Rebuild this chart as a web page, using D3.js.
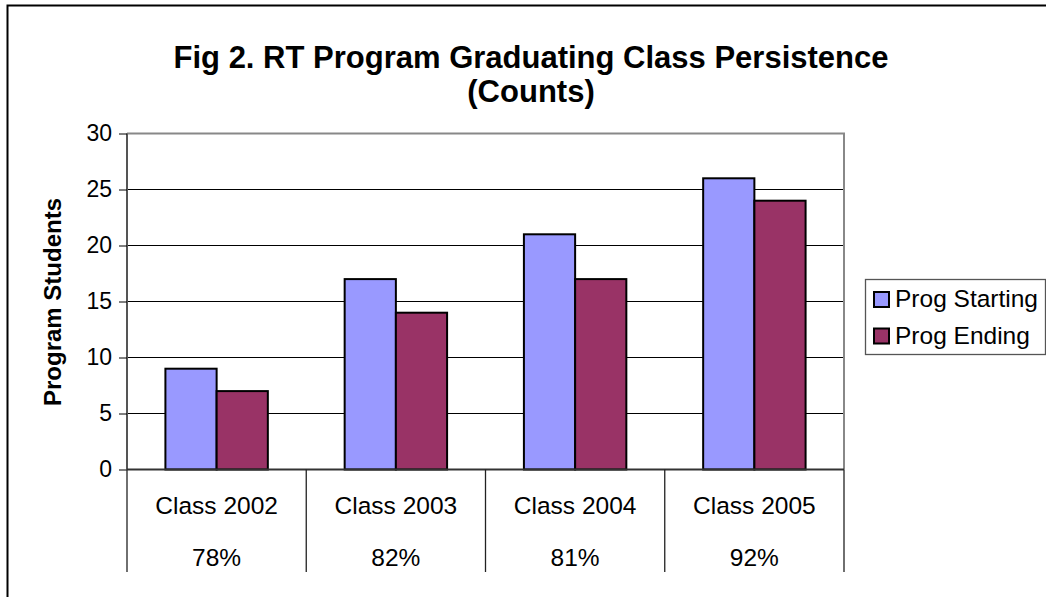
<!DOCTYPE html>
<html><head><meta charset="utf-8">
<script src="https://cdn.jsdelivr.net/npm/d3@7"></script>
<style>body{margin:0;background:#fff}svg{display:block;font-family:Arial,"Liberation Sans",sans-serif}</style>
</head><body><svg id="c" width="1046" height="597"></svg>
<script>
const categories = ["Class 2002","Class 2003","Class 2004","Class 2005"];
const progStarting = [9,17,21,26];
const progEnding = [7,14,17,24];
const percentLabels = ["78%","82%","81%","92%"];
const seriesNames = ["Prog Starting","Prog Ending"];
const yTicks = [0,5,10,15,20,25,30];

const svg = d3.select("#c");
const colors = ["#9999FF","#993366"];
const L=127, R=844, T=133.5, B=469.5;

// outer chart border
svg.append("path").attr("d","M7.5,600V5.5H1050").attr("fill","none").attr("stroke","#000").attr("stroke-width",2);

const x = d3.scaleBand().domain(categories).range([L,R]).paddingInner(0).paddingOuter(0);
const y = d3.scaleLinear().domain([0,30]).range([B,T]);
const sub = d3.scaleBand().domain(seriesNames).range([0,x.bandwidth()]).paddingInner(0).paddingOuter(0.75);

// gridlines
svg.append("g").selectAll("line").data(yTicks.filter(d=>d>0&&d<30)).join("line")
  .attr("x1",L).attr("x2",R).attr("y1",d=>y(d)).attr("y2",d=>y(d)).attr("stroke","#000").attr("stroke-width",1);

// plot border (top/right gray)
svg.append("path").attr("d",`M${L},${T}H${R}V${B}`).attr("fill","none").attr("stroke","#888").attr("stroke-width",2);

// bars
const data = categories.map((c,i)=>({c, vals:[progStarting[i],progEnding[i]]}));
const g = svg.append("g");
data.forEach(d=>{
  d.vals.forEach((v,j)=>{
    g.append("rect").attr("x",x(d.c)+sub(seriesNames[j])).attr("width",sub.bandwidth())
     .attr("y",y(v)).attr("height",y(0)-y(v)).attr("fill",colors[j]).attr("stroke","#000").attr("stroke-width",2);
  });
});

// y axis
const yAxis = d3.axisLeft(y).tickValues(yTicks).tickSize(8).tickPadding(7);
const ya = svg.append("g").attr("transform",`translate(${L},0)`).call(yAxis);
ya.select(".domain").attr("stroke","#555").attr("stroke-width",2).attr("d",`M0,${T}V${B}`);
ya.selectAll(".tick line").attr("stroke","#000");
ya.selectAll("text").attr("font-size",23).attr("fill","#000").attr("font-family","Arial, 'Liberation Sans', sans-serif");

// x axis baseline
svg.append("line").attr("x1",L).attr("x2",R).attr("y1",B).attr("y2",B).attr("stroke","#333").attr("stroke-width",2);

// data table lines
const bounds = categories.map(c=>x(c)).concat([R]);
svg.append("g").selectAll("line").data(bounds).join("line")
  .attr("x1",d=>d).attr("x2",d=>d).attr("y1",B).attr("y2",572).attr("stroke","#222").attr("stroke-width",1.3);

svg.append("g").selectAll("text").data(categories).join("text")
  .attr("x",d=>x(d)+x.bandwidth()/2).attr("y",514).attr("text-anchor","middle").attr("font-size",24.5).text(d=>d);
svg.append("g").selectAll("text").data(percentLabels).join("text")
  .attr("x",(d,i)=>x(categories[i])+x.bandwidth()/2).attr("y",566).attr("text-anchor","middle").attr("font-size",24.5).text(d=>d);

// title
svg.append("text").attr("x",531).attr("y",68).attr("text-anchor","middle").attr("font-size",31).attr("font-weight","bold").text("Fig 2. RT Program Graduating Class Persistence");
svg.append("text").attr("x",531).attr("y",102).attr("text-anchor","middle").attr("font-size",31).attr("font-weight","bold").text("(Counts)");

// y title
svg.append("text").attr("transform",`translate(61,302) rotate(-90)`).attr("text-anchor","middle").attr("font-size",24).attr("font-weight","bold").text("Program Students");

// legend
const lg = svg.append("g");
lg.append("rect").attr("x",865.5).attr("y",279.5).attr("width",180).attr("height",75).attr("fill","#fff").attr("stroke","#555").attr("stroke-width",1.3);
seriesNames.forEach((n,i)=>{
  const yy = 292 + i*36.5;
  lg.append("rect").attr("x",874).attr("y",yy).attr("width",15).attr("height",15).attr("fill",colors[i]).attr("stroke","#000").attr("stroke-width",2);
  lg.append("text").attr("x",895).attr("y",yy+15).attr("font-size",24.5).text(n);
});
</script></body></html>
